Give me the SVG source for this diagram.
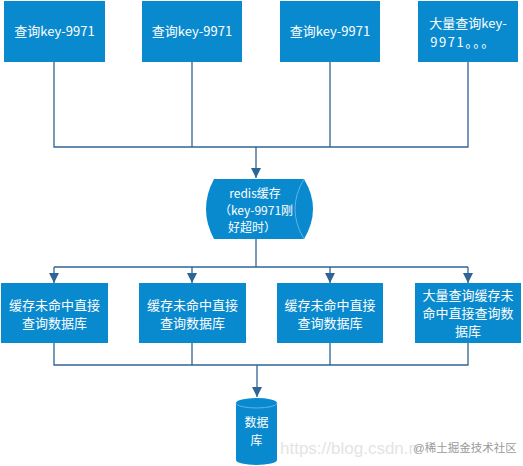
<svg xmlns="http://www.w3.org/2000/svg" width="523" height="466" viewBox="0 0 523 466">
<defs>
<style>
.box{fill:#0a8ace;}
.t{fill:#ffffff;font-family:"Noto Sans CJK SC","DejaVu Sans",sans-serif;font-size:13px;text-anchor:middle;}
.t2{font-size:12px;}
.ln{fill:none;stroke:#2f6595;stroke-width:1.3;}
.wm{font-family:"Liberation Sans","Noto Sans CJK SC",sans-serif;}
</style>
<marker id="ah" viewBox="0 0 10 10" refX="10" refY="5" markerWidth="10" markerHeight="10" markerUnits="userSpaceOnUse" orient="auto">
<path d="M0,0 L10,5 L0,10 z" fill="#2f6595"/>
</marker>
</defs>
<rect width="523" height="466" fill="#ffffff"/>
<g id="connectors">
<path class="ln" d="M54,62 V147 H468 V62 M192,62 V147 M330,62 V147"/>
<path class="ln" d="M256,147 V178" marker-end="url(#ah)"/>
<path class="ln" d="M256,239 V267 M54,267 H468"/>
<path class="ln" d="M54,267 V283" marker-end="url(#ah)"/>
<path class="ln" d="M192,267 V283" marker-end="url(#ah)"/>
<path class="ln" d="M330,267 V283" marker-end="url(#ah)"/>
<path class="ln" d="M468,267 V283" marker-end="url(#ah)"/>
<path class="ln" d="M54,343 V365 H468 V343 M192,343 V365 M330,343 V365"/>
<path class="ln" d="M257,365 V397" marker-end="url(#ah)"/>
</g>
<g id="q1"><rect class="box" x="4" y="1" width="101" height="61"/><text class="t" x="54.5" y="36">查询key-9971</text></g>
<g id="q2"><rect class="box" x="142" y="1" width="100" height="61"/><text class="t" x="192" y="36">查询key-9971</text></g>
<g id="q3"><rect class="box" x="280" y="1" width="100" height="61"/><text class="t" x="330" y="36">查询key-9971</text></g>
<g id="q4"><rect class="box" x="418" y="1" width="100" height="61"/><text class="t" x="468" y="28">大量查询key-</text><text class="t" x="463" y="47" letter-spacing="1.5">9971。。。</text></g>
<g id="redis">
<path class="box" d="M214,179 H304 Q322,209 304,239 H214 Q198,209 214,179 z"/>
<path d="M304,179 Q286,209 304,239" fill="none" stroke="#5fb3e6" stroke-width="1"/>
<text class="t t2" x="255" y="198">redis缓存</text>
<text class="t t2" x="256" y="215">（key-9971刚</text>
<text class="t t2" x="252" y="232">好超时）</text>
</g>
<g id="m1"><rect class="box" x="1" y="283" width="107" height="60"/><text class="t" x="54.5" y="310">缓存未命中直接</text><text class="t" x="54.5" y="328">查询数据库</text></g>
<g id="m2"><rect class="box" x="139" y="283" width="107" height="60"/><text class="t" x="192.5" y="310">缓存未命中直接</text><text class="t" x="192.5" y="328">查询数据库</text></g>
<g id="m3"><rect class="box" x="277" y="283" width="106" height="60"/><text class="t" x="330" y="310">缓存未命中直接</text><text class="t" x="330" y="328">查询数据库</text></g>
<g id="m4"><rect class="box" x="415" y="283" width="106" height="60"/><text class="t" x="468" y="300">大量查询缓存未</text><text class="t" x="468" y="318">命中直接查询数</text><text class="t" x="468" y="336">据库</text></g>
<g id="db">
<path class="box" d="M236,403 A20.5,5 0 0 1 277,403 V460 A20.5,5 0 0 1 236,460 z"/>
<path d="M236,403 A20.5,5 0 0 0 277,403" fill="none" stroke="#5fb3e6" stroke-width="1"/>
<text class="t t2" x="256.5" y="427">数据</text>
<text class="t t2" x="256.5" y="445">库</text>
</g>
<g id="watermark">
<text class="wm" x="280" y="454" font-size="17" fill="#e4e4e4">https://blog.csdn.n</text>
<text class="wm" x="413" y="452" font-size="11.5" fill="#9a9a9a">@稀土掘金技术社区</text>
</g>
</svg>
